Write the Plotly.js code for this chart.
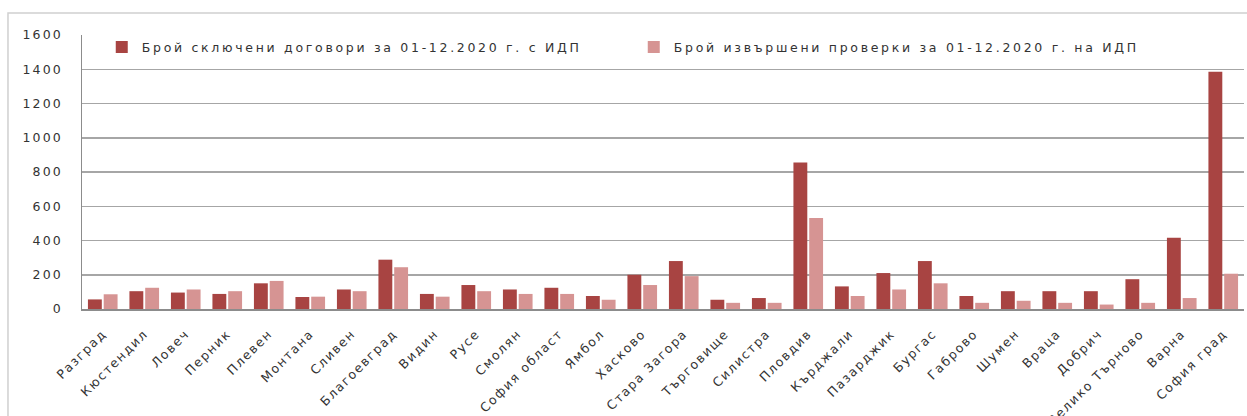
<!DOCTYPE html>
<html>
<head>
<meta charset="utf-8">
<script src="https://cdn.plot.ly/plotly-3.0.1.min.js"></script>
<style>
html,body{margin:0;padding:0;background:#fff;}
#chart{width:1247px;height:416px;}
#chart .legendtext{letter-spacing:2.7px;}
#chart .xtick text{letter-spacing:1.6px;}
#chart .ytick text{letter-spacing:2.2px;}
</style>
</head>
<body>
<div id="chart"></div>
<script>
const categories = ["Разград","Кюстендил","Ловеч","Перник","Плевен","Монтана","Сливен","Благоевград","Видин","Русе","Смолян","София област","Ямбол","Хасково","Стара Загора","Търговище","Силистра","Пловдив","Кърджали","Пазарджик","Бургас","Габрово","Шумен","Враца","Добрич","Велико Търново","Варна","София град"];
const contracts = [56,104,96,88,150,70,114,288,88,140,114,124,76,200,280,54,64,855,132,210,280,76,104,104,104,174,416,1385];
const inspections = [86,124,114,104,164,72,104,244,72,104,88,88,54,140,192,36,36,531,76,114,150,36,48,36,26,36,64,206];
const seriesNames = ["Брой сключени договори за 01-12.2020 г. с ИДП","Брой извършени проверки за 01-12.2020 г. на ИДП"];
const yTicks = [0,200,400,600,800,1000,1200,1400,1600];

const font = "DejaVu Sans, sans-serif";
const data = [
  {type:"bar", name:seriesNames[0], x:categories, y:contracts, marker:{color:"#a84442"}},
  {type:"bar", name:seriesNames[1], x:categories, y:inspections, marker:{color:"#d69493"}}
];
const layout = {
  width:1247, height:416,
  margin:{l:82, r:3, t:35, b:107},
  paper_bgcolor:"#fff", plot_bgcolor:"#fff",
  barmode:"group", bargap:0.24, bargroupgap:0.12,
  showlegend:true,
  legend:{orientation:"h", x:0.017, xanchor:"left", y:1.01, yanchor:"top",
          bgcolor:"#fff", font:{family:font, size:12.5, color:"#333"},
          entrywidth:487, itemwidth:30, traceorder:"normal"},
  font:{family:font, size:12.5, color:"#333"},
  xaxis:{type:"category", tickangle:-45, showgrid:false, showline:true, linecolor:"#8c8c8c", linewidth:1.5,
         ticks:"", ticklabelstandoff:11, tickfont:{family:font, size:12.5, color:"#333"}, automargin:false},
  yaxis:{range:[0,1600], tickvals:yTicks, showgrid:true, gridcolor:"#a6a6a6", gridwidth:1.5,
         showline:true, linecolor:"#8c8c8c", linewidth:1.5, zeroline:false, ticks:"",
         ticklabelstandoff:15, tickfont:{family:font, size:12.5, color:"#333"}, automargin:false},
  shapes:[
    {type:"rect", xref:"paper", yref:"paper", x0:-0.0637, x1:1.05, y0:1.0803, y1:-0.6,
     line:{color:"#d0d0d0", width:1.5}, fillcolor:"rgba(0,0,0,0)", layer:"below"}
  ]
};
Plotly.newPlot("chart", data, layout, {staticPlot:true, displayModeBar:false});
</script>
</body>
</html>
